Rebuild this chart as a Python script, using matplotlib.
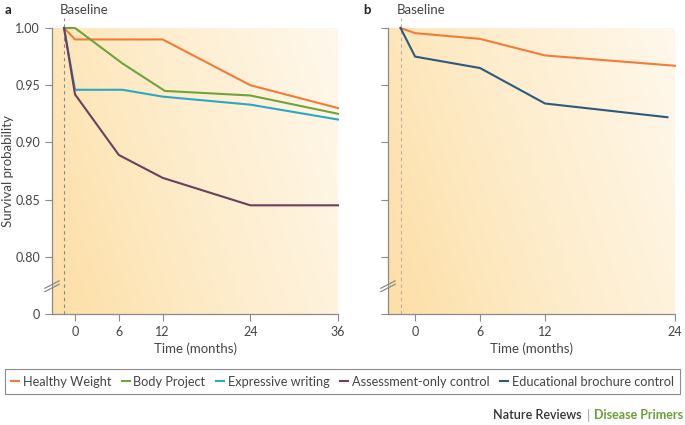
import matplotlib.pyplot as plt
import numpy as np
from matplotlib.colors import LinearSegmentedColormap
from matplotlib.lines import Line2D

plt.rcParams['font.family'] = ['Lato', 'DejaVu Sans']

# panel a data (months, survival probability)
hw_a_t = [-1.5, 0, 12, 24, 36]
hw_a_v = [1.00, 0.990, 0.990, 0.950, 0.930]
bp_t = [-1.5, 0, 6.5, 12.3, 24, 36]
bp_v = [1.00, 1.00, 0.969, 0.945, 0.941, 0.925]
ew_t = [-1.5, 0, 6.5, 12, 24, 36]
ew_v = [1.00, 0.946, 0.946, 0.940, 0.933, 0.920]
ac_t = [-1.5, 0, 6, 12, 24, 36]
ac_v = [1.00, 0.942, 0.889, 0.869, 0.845, 0.845]

# panel b data
hw_b_t = [-1.34, 0, 6, 12, 24]
hw_b_v = [1.00, 0.9955, 0.9905, 0.976, 0.967]
eb_t = [-1.34, 0, 6, 12, 23.3]
eb_v = [1.00, 0.975, 0.965, 0.934, 0.922]

yticks = [0.75, 0.80, 0.85, 0.90, 0.95, 1.00]
ytick_labels = ['0', '0.80', '0.85', '0.90', '0.95', '1.00']
xticks_a = [0, 6, 12, 24, 36]
xticks_b = [0, 6, 12, 24]

c_hw = '#F27B38'
c_bp = '#6FA43A'
c_ew = '#2AA8C4'
c_ac = '#6B3F5E'
c_eb = '#2B5A7E'
grey = '#8a8a8a'
txt = '#444444'

W, H = 685, 425
fig = plt.figure(figsize=(W / 100, H / 100), dpi=100)
ax_a = fig.add_axes([52 / W, 1 - 314 / H, 286 / W, 286 / H])
ax_b = fig.add_axes([388 / W, 1 - 314 / H, 287 / W, 286 / H])

cmap = LinearSegmentedColormap.from_list('bg', ['#FDDFA6', '#FEEDCD', '#FFF8EC'])
gx, gy = np.meshgrid(np.linspace(0, 1, 200), np.linspace(0, 1, 200))
grad = 0.75 * gx + 0.25 * gy


def style(ax, xlim, xticks, base_x, show_ylabels, base_col):
    ax.imshow(grad, extent=[0, 1, 0, 1], origin='lower', cmap=cmap, aspect='auto',
              transform=ax.transAxes, zorder=0)
    ax.set_xlim(*xlim)
    ax.set_ylim(0.75, 1.0)
    for s in ['top', 'right']:
        ax.spines[s].set_visible(False)
    for s in ['left', 'bottom']:
        ax.spines[s].set_color(grey)
        ax.spines[s].set_linewidth(0.9)
    ax.set_xticks(xticks)
    ax.set_yticks(yticks)
    ax.set_yticklabels(ytick_labels if show_ylabels else [])
    ax.tick_params(colors=grey, labelcolor=txt, labelsize=9, length=5, width=0.8)
    ax.set_xlabel('Time (months)', fontsize=9.5, color=txt, labelpad=3)
    # baseline
    ax.plot([base_x, base_x], [0.75, 1.009], ls=(0, (3, 3)), color=base_col, lw=0.8,
            clip_on=False, zorder=1)
    # axis break marks
    for dy in [0, 0.012]:
        ax.plot([-0.025, 0.025], [0.078 + dy, 0.104 + dy], transform=ax.transAxes,
                color=grey, lw=0.9, clip_on=False, zorder=5)


style(ax_a, (-3.15, 36), xticks_a, -1.5, True, '#888888')
style(ax_b, (-2.5, 24), xticks_b, -1.34, False, '#c4aaa0')
ax_a.set_ylabel('Survival probability', fontsize=9.5, color=txt)
ax_a.yaxis.set_label_coords(-0.133, 0.5)

lw = 1.5
ax_a.plot(hw_a_t, hw_a_v, color=c_hw, lw=lw, clip_on=False, zorder=3)
ax_a.plot(bp_t, bp_v, color=c_bp, lw=lw, clip_on=False, zorder=3)
ax_a.plot(ew_t, ew_v, color=c_ew, lw=lw, clip_on=False, zorder=3)
ax_a.plot(ac_t, ac_v, color=c_ac, lw=lw, clip_on=False, zorder=4)
ax_b.plot(hw_b_t, hw_b_v, color=c_hw, lw=lw, clip_on=False, zorder=3)
ax_b.plot(eb_t, eb_v, color=c_eb, lw=lw, clip_on=False, zorder=3)

fig.text(5 / W, 1 - 10 / H, 'a', fontsize=9.5, fontweight='bold', color='#222222', va='center')
fig.text(363 / W, 1 - 10 / H, 'b', fontsize=9.5, fontweight='bold', color='#222222', va='center')
fig.text(60 / W, 1 - 10 / H, 'Baseline', fontsize=9.5, color=txt, va='center')
fig.text(397 / W, 1 - 10 / H, 'Baseline', fontsize=9.5, color=txt, va='center')

labels = ['Healthy Weight', 'Body Project', 'Expressive writing',
          'Assessment-only control', 'Educational brochure control']
colors = [c_hw, c_bp, c_ew, c_ac, c_eb]
handles = [Line2D([], [], color=c, lw=1.5) for c in colors]
leg = fig.legend(handles, labels, loc='center', ncol=5,
                 bbox_to_anchor=(342.5 / W, 1 - 381.5 / H),
                 fontsize=9.2, handlelength=0.6, handletextpad=0.3, columnspacing=0.85,
                 borderpad=0.5, fancybox=False, edgecolor=grey, framealpha=1)
leg.get_frame().set_linewidth(0.8)
for t in leg.get_texts():
    t.set_color(txt)

fig.text(582 / W, 1 - 415 / H, 'Nature Reviews', fontsize=9, fontweight='semibold',
         color='#333333', ha='right', va='center')
fig.text(588 / W, 1 - 415 / H, '|', fontsize=9.5, color='#999999', ha='center', va='center')
fig.text(683 / W, 1 - 415 / H, 'Disease Primers', fontsize=9, fontweight='bold',
         color='#6A9E3A', ha='right', va='center')

fig.savefig('out.png', dpi=100)
